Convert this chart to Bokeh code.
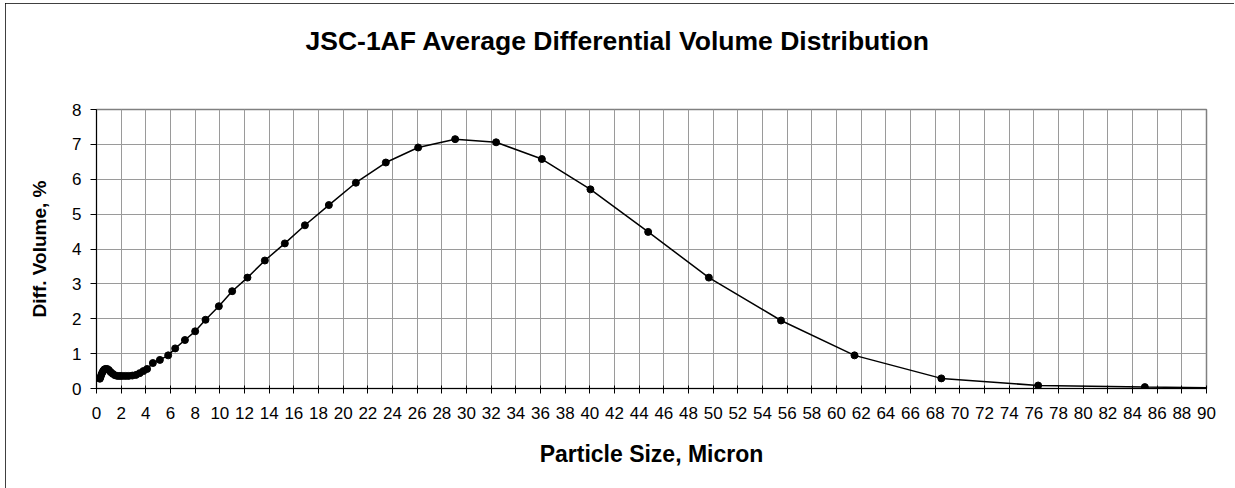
from bokeh.plotting import figure
from bokeh.models import FixedTicker, Range1d, Title
from bokeh.embed import file_html
from bokeh.resources import INLINE

# Particle size (micron) and differential volume (%)
particle_size = [0.27, 0.33, 0.40, 0.47, 0.55, 0.65, 0.75, 0.87, 1.0, 1.15,
                 1.32, 1.5, 1.7, 1.9, 2.1, 2.35, 2.6, 2.9, 3.2, 3.5,
                 3.8, 4.1, 4.57, 5.14, 5.81, 6.38, 7.17, 8.0, 8.84, 9.92,
                 11.0, 12.24, 13.65, 15.27, 16.9, 18.84, 21.03, 23.46, 26.08, 29.08,
                 32.4, 36.11, 40.05, 44.73, 49.65, 55.5, 61.46, 68.5, 76.35, 85.0,
                 94.6]
diff_volume = [0.28, 0.33, 0.40, 0.46, 0.51, 0.55, 0.56, 0.56, 0.53, 0.47,
               0.42, 0.38, 0.36, 0.36, 0.36, 0.36, 0.36, 0.37, 0.39, 0.44,
               0.50, 0.56, 0.73, 0.82, 0.95, 1.15, 1.39, 1.64, 1.97, 2.36,
               2.79, 3.18, 3.67, 4.16, 4.68, 5.26, 5.90, 6.48, 6.91, 7.15,
               7.06, 6.58, 5.71, 4.49, 3.18, 1.95, 0.95, 0.29, 0.086, 0.04,
               0.0]

x_ticks = list(range(0, 91, 2))
y_ticks = list(range(0, 9, 1))

title_text = "JSC-1AF Average Differential Volume Distribution"
x_label = "Particle Size, Micron"
y_label = "Diff. Volume, %"

FONT = "Liberation Sans"

p = figure(width=1229, height=485, output_backend="svg", toolbar_location=None,
           x_range=Range1d(0, 90), y_range=Range1d(0, 8),
           min_border_left=91, min_border_right=28,
           min_border_top=106, min_border_bottom=100)
p.background_fill_color = "white"
p.border_fill_color = "white"
p.outline_line_color = "#808080"
p.outline_line_width = 1.5
p.styles = {"outline": "1.5px solid black", "outline-offset": "-1px",
            "margin-left": "5px", "margin-top": "3px"}

# invisible spacer panel between the frame and the title
spacer = Title(text=" ", text_font_size="1px", standoff=51)
p.add_layout(spacer, "above")

t = Title(text=title_text, align="left", offset=209, text_font=FONT,
          text_font_size="26.5px", text_font_style="bold", text_color="black",
          vertical_align="bottom", standoff=0)
p.add_layout(t, "above")

for ax in (p.xaxis[0], p.yaxis[0]):
    ax.axis_line_color = "black"
    ax.axis_line_width = 1
    ax.major_tick_line_color = "black"
    ax.minor_tick_line_color = None
    ax.major_label_text_font = FONT
    ax.major_label_text_font_size = "17px"
    ax.major_label_text_color = "black"
    ax.axis_label_text_font = FONT
    ax.axis_label_text_font_style = "bold"
    ax.axis_label_text_color = "black"

p.xaxis.axis_label_text_font_size = "23px"
p.yaxis.axis_label_text_font_size = "19px"
p.xaxis.ticker = FixedTicker(ticks=x_ticks)
p.yaxis.ticker = FixedTicker(ticks=y_ticks)
p.xaxis.axis_label = x_label
p.yaxis.axis_label = y_label
p.xaxis.major_tick_in = 3
p.xaxis.major_tick_out = 5
p.yaxis.major_tick_in = 0
p.yaxis.major_tick_out = 6
p.xaxis.major_label_standoff = 13
p.yaxis.major_label_standoff = 9
p.xaxis.axis_label_standoff = 19
p.yaxis.axis_label_standoff = 19

p.xgrid.ticker = FixedTicker(ticks=x_ticks)
p.ygrid.ticker = FixedTicker(ticks=y_ticks)
for g in (p.xgrid[0], p.ygrid[0]):
    g.grid_line_color = "#9a9a9a"
    g.grid_line_width = 1

p.line(particle_size, diff_volume, line_color="black", line_width=1.5)
p.scatter(particle_size, diff_volume, size=7, fill_color="black", line_color="black")

open("out.html", "w").write(file_html(p, INLINE))
